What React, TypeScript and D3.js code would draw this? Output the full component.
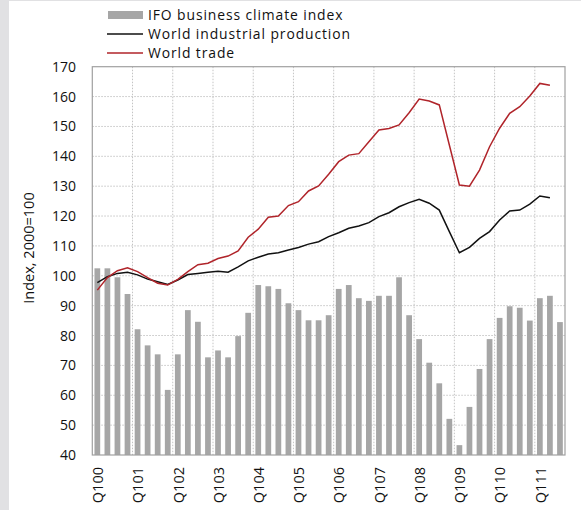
import React from "react";
import * as d3 from "d3";

const quarters: string[] = [];
for (let y = 0; y <= 11; y++) {
  for (let q = 1; q <= 4; q++) {
    quarters.push(`Q${q}${String(y).padStart(2, "0")}`);
  }
}
const categories = quarters.slice(0, 47);

const ifoIndex = [102.5, 102.5, 99.5, 93.9, 82.1, 76.7, 73.7, 61.8, 73.7, 88.5, 84.6, 72.7, 75.0, 72.7, 79.8, 87.6,
  96.9, 96.5, 95.6, 90.8, 88.5, 85.1, 85.1, 86.8, 95.6, 96.9, 92.5, 91.6, 93.3, 93.3, 99.5, 86.8,
  78.8, 70.9, 64.0, 52.1, 43.3, 56.1, 68.8, 78.8, 85.9, 89.8, 89.3, 85.0, 92.5, 93.3, 84.5];

const industrialProduction = [97.7, 99.7, 100.8, 101.2, 100.3, 98.9, 98.0, 97.1, 98.6, 100.4, 100.8, 101.2, 101.5, 101.2, 103.0, 105.0,
  106.2, 107.3, 107.7, 108.6, 109.5, 110.6, 111.4, 113.1, 114.4, 115.9, 116.7, 117.8, 119.8, 121.1, 123.1, 124.5,
  125.6, 124.3, 122.0, 114.8, 107.7, 109.5, 112.5, 114.8, 118.7, 121.7, 122.0, 124.0, 126.7, 126.1];

const worldTrade = [95.2, 99.4, 101.7, 102.7, 101.4, 99.4, 97.5, 96.9, 98.8, 101.4, 103.7, 104.2, 105.8, 106.6, 108.3, 112.9,
  115.6, 119.6, 120.0, 123.5, 124.8, 128.4, 130.1, 134.0, 138.2, 140.4, 140.9, 144.9, 148.8, 149.3, 150.5, 154.6,
  159.2, 158.5, 157.2, 143.8, 130.4, 130.0, 135.4, 143.2, 149.4, 154.4, 156.6, 160.2, 164.4, 163.8];

const yTicks = [40, 50, 60, 70, 80, 90, 100, 110, 120, 130, 140, 150, 160, 170];
const xTickLabels = ["Q100", "Q101", "Q102", "Q103", "Q104", "Q105", "Q106", "Q107", "Q108", "Q109", "Q110", "Q111"];

const legendItems = ["IFO business climate index", "World industrial production", "World trade"];

const W = 581, H = 510;
const L = 92.3, R = 565, T = 66.7, B = 455;
const FONT = "'Open Sans', sans-serif";

export default function App() {
  const x = d3.scaleBand<string>().domain(categories).range([L, R]).paddingInner(0.43).paddingOuter(0.215);
  const y = d3.scaleLinear().domain([40, 170]).range([B, T]);
  const step = x.step();
  const cx = (i: number) => (x(categories[i]) as number) + x.bandwidth() / 2;

  const line = d3.line<number>().x((_, i) => cx(i)).y((d) => y(d));

  const vGrid = d3.range(4, categories.length, 4).map((k) => L + k * step);

  return (
    <svg width={W} height={H} style={{ position: "fixed", left: 0, top: 0, background: "#fff" }}
      fontFamily={FONT}>
      <rect x={0} y={0} width={9} height={H} fill="#e1e1e3" />
      <line x1={9} x2={W} y1={0.5} y2={0.5} stroke="#e1e1e3" />
      {/* grid */}
      {yTicks.slice(1, -1).map((t) => (
        <line key={"h" + t} x1={L} x2={R} y1={y(t)} y2={y(t)} stroke="#c4c4c4" strokeDasharray="1.5,1.5" />
      ))}
      {vGrid.map((gx, i) => (
        <line key={"v" + i} x1={gx} x2={gx} y1={T} y2={B} stroke="#c4c4c4" strokeDasharray="1.5,1.5" />
      ))}
      {/* bars */}
      {ifoIndex.map((v, i) => (
        <rect key={"b" + i} x={x(categories[i])} y={y(v)} width={x.bandwidth()} height={B - y(v)} fill="#a6a6a6" />
      ))}
      {/* lines */}
      <path d={line(industrialProduction) || ""} fill="none" stroke="#111" strokeWidth={1.5} />
      <path d={line(worldTrade) || ""} fill="none" stroke="#b0242a" strokeWidth={1.5} />
      {/* frame */}
      <rect x={L} y={T} width={R - L} height={B - T} fill="none" stroke="#a0a0a0" strokeWidth={1.2} />
      {/* y axis labels */}
      {yTicks.map((t) => (
        <text key={"yl" + t} x={76} y={y(t)} dy="0.36em" textAnchor="end" fontSize={14} fill="#111">{t}</text>
      ))}
      <text transform={`translate(29,${248}) rotate(-90)`} textAnchor="middle" dy="0.36em" fontSize={14.5} fill="#111">
        Index, 2000=100
      </text>
      {/* x labels */}
      {xTickLabels.map((lab, k) => {
        const px = cx(k * 4);
        return (
          <text key={lab} transform={`translate(${px + 0.5},467) rotate(-90)`} textAnchor="end" dy="0.36em" fontSize={14.5} fill="#111">
            {lab}
          </text>
        );
      })}
      {/* legend */}
      <rect x={108} y={11} width={35} height={8} fill="#a6a6a6" />
      <line x1={107} x2={143} y1={34} y2={34} stroke="#111" strokeWidth={1.5} />
      <line x1={107} x2={143} y1={53} y2={53} stroke="#b0242a" strokeWidth={1.5} />
      {legendItems.map((s, i) => (
        <text key={s} x={148} y={15 + i * 19} dy="0.36em" fontSize={13.9} letterSpacing={0.9} fill="#111">{s}</text>
      ))}
    </svg>
  );
}
